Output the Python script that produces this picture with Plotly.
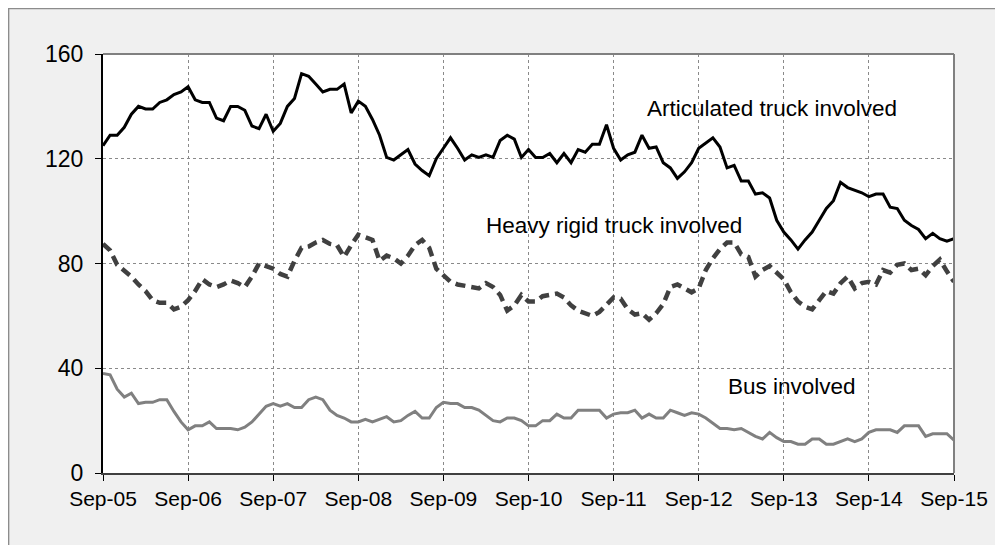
import plotly.graph_objects as go

tick_labels = ["Sep-05", "Sep-06", "Sep-07", "Sep-08", "Sep-09", "Sep-10",
               "Sep-11", "Sep-12", "Sep-13", "Sep-14", "Sep-15"]

articulated = [125, 129, 129, 132, 137, 140, 139, 139, 141.5, 142.5, 144.5, 145.5,
               147.5, 142.5, 141.5, 141.5, 135.5, 134.5, 140, 140, 138.5, 132.5, 131.5, 137,
               130.5, 133.5, 140, 143, 152.5, 151.5, 148.5, 145.5, 146.5, 146.5, 148.5, 137.5,
               142, 140, 135, 129, 120.5, 119.5, 121.5, 123.5, 118, 115.5, 113.5, 120,
               124, 128, 124, 119.5, 121.5, 120.5, 121.5, 120.5, 127, 129, 127.5, 120.5,
               123.5, 120.5, 120.5, 122, 118.5, 122, 118.5, 123.5, 122.5, 125.5, 125.5, 133,
               124, 119.5, 121.5, 122.5, 129, 124, 124.5, 118.5, 116.5, 112.5, 115, 118.5,
               124, 126, 128, 124.5, 116.5, 117.5, 111.5, 111.5, 106.5, 107, 105, 96.5,
               92, 89, 85.5, 89, 92, 96.5, 101, 104, 111, 109, 108, 107,
               105.5, 106.5, 106.5, 101.5, 101, 96.5, 94.5, 93, 89.5, 91.5, 89.5, 88.5,
               89.5]

heavy_rigid = [87.5, 85, 79.5, 77.5, 75, 72, 69.5, 66, 65, 65, 62.5, 63.5,
               66, 69.5, 74, 72, 71, 72, 73.5, 72.5, 71, 75, 80, 79,
               78, 76, 75, 81, 86, 86.5, 88, 89, 87.5, 87, 82.5, 87,
               91, 90, 89, 81, 83, 82, 80, 83, 87, 89, 86, 78,
               75.5, 73, 72, 71.5, 71, 70.5, 72.5, 71, 68, 62, 64, 68,
               65.5, 65.5, 67.5, 68, 68.5, 67, 64, 62, 61, 60, 61.5, 64.5,
               67, 66.5, 62.5, 60.5, 61, 58.5, 61, 64.5, 71, 72, 70.5, 69,
               70.5, 77.5, 82, 85.5, 88, 88, 83.5, 82.5, 75, 77.5, 79, 76.5,
               74, 69, 65.5, 63.5, 62.5, 66, 69.5, 68.5, 72.5, 75, 70.5, 72.5,
               73, 72, 77.5, 76.5, 79.5, 80, 77.5, 78, 75.5, 79, 81.5, 77,
               73]

bus = [38, 37.5, 32, 29, 30.5, 26.5, 27, 27, 28, 28, 23.5, 19.5,
       16.5, 18, 18, 19.5, 17, 17, 17, 16.5, 17.5, 19.5, 22.5, 25.5,
       26.5, 25.5, 26.5, 25, 25, 28, 29, 28, 24, 22, 21, 19.5,
       19.5, 20.5, 19.5, 20.5, 21.5, 19.5, 20, 22, 23.5, 21, 21, 25,
       27, 26.5, 26.5, 25, 25, 24, 22, 20, 19.5, 21, 21, 20,
       18, 18, 20, 20, 22.5, 21, 21, 24, 24, 24, 24, 21,
       22.5, 23, 23, 24, 21, 22.5, 21, 21, 24, 23, 22, 23,
       22.5, 21, 19, 17, 17, 16.5, 17, 15.5, 14, 13, 15.5, 13.5,
       12, 12, 11, 11, 13, 13, 11, 11, 12, 13, 12, 13,
       15.5, 16.5, 16.5, 16.5, 15.5, 18, 18, 18, 14, 15, 15, 15,
       12.5]

series_names = ["Articulated truck involved", "Heavy rigid truck involved", "Bus involved"]

FONT = "Liberation Sans, Arial, sans-serif"

fig = go.Figure()
fig.add_trace(go.Scatter(x=list(range(len(articulated))), y=articulated, mode="lines",
                         name=series_names[0], line=dict(color="#000000", width=3)))
fig.add_trace(go.Scatter(x=list(range(len(heavy_rigid))), y=heavy_rigid, mode="lines",
                         name=series_names[1],
                         line=dict(color="#404040", width=4.5, dash="10px,6px")))
fig.add_trace(go.Scatter(x=list(range(len(bus))), y=bus, mode="lines",
                         name=series_names[2], line=dict(color="#808080", width=3)))

# The page body adds an 8px offset; layout is expressed in screen pixels and shifted.
OFF = 8
W, H = 1003 - OFF, 545 - OFF
L, R, T, B = 103 - OFF, 954 - OFF, 54 - OFF, 473 - OFF
pw, ph = R - L, B - T

def px_x(p):
    return (p - OFF - L) / pw

def px_y(p):
    return (B - (p - OFF)) / ph

shapes = [
    # outer grey panel with border
    dict(type="rect", xref="paper", yref="paper", layer="below",
         x0=px_x(8.6), y0=px_y(570), x1=px_x(1030), y1=px_y(8.6),
         fillcolor="#f0f0f0", line=dict(color="#8c8c8c", width=1.5)),
    # white plot area
    dict(type="rect", xref="paper", yref="paper", layer="below",
         x0=0, y0=0, x1=1, y1=1, fillcolor="#ffffff", line=dict(width=0)),
    # top and right border
    dict(type="line", xref="paper", yref="paper", x0=0, x1=1, y0=1, y1=1,
         line=dict(color="#808080", width=2)),
    dict(type="line", xref="paper", yref="paper", x0=1, x1=1, y0=0, y1=1,
         line=dict(color="#808080", width=2)),
]

annotations = [
    dict(text=series_names[0], xref="paper", yref="paper", x=px_x(772), y=px_y(108),
         xanchor="center", yanchor="middle", showarrow=False,
         font=dict(size=22.5, color="#000000", family=FONT)),
    dict(text=series_names[1], xref="paper", yref="paper", x=px_x(614), y=px_y(225),
         xanchor="center", yanchor="middle", showarrow=False,
         font=dict(size=22.5, color="#000000", family=FONT)),
    dict(text=series_names[2], xref="paper", yref="paper", x=px_x(792), y=px_y(386),
         xanchor="center", yanchor="middle", showarrow=False,
         font=dict(size=22.5, color="#000000", family=FONT)),
]

fig.update_layout(
    width=W, height=H,
    margin=dict(l=L, r=W - R, t=T, b=H - B, pad=0),
    paper_bgcolor="#ffffff", plot_bgcolor="rgba(0,0,0,0)",
    showlegend=False,
    font=dict(family=FONT, color="#000000"),
    shapes=shapes, annotations=annotations,
    xaxis=dict(range=[0, len(articulated) - 1], tickmode="array",
               tickvals=[i * 12 for i in range(len(tick_labels))], ticktext=tick_labels,
               showgrid=True, gridcolor="#8a8a8a", griddash="dot", gridwidth=1,
               showline=True, linecolor="#404040", linewidth=2,
               ticks="outside", ticklen=6, tickcolor="#000000", tickwidth=1,
               tickfont=dict(size=21, family=FONT, color="#000000"),
               zeroline=False, fixedrange=True),
    yaxis=dict(range=[0, 160], tickmode="array", tickvals=[0, 40, 80, 120, 160],
               showgrid=True, gridcolor="#8a8a8a", griddash="dot", gridwidth=1,
               showline=True, linecolor="#000000", linewidth=2,
               ticks="outside", ticklen=6, tickcolor="#000000", tickwidth=1,
               tickfont=dict(size=23, family=FONT, color="#000000"),
               ticklabelstandoff=7,
               zeroline=False, fixedrange=True),
)

fig.write_html("out.html")
